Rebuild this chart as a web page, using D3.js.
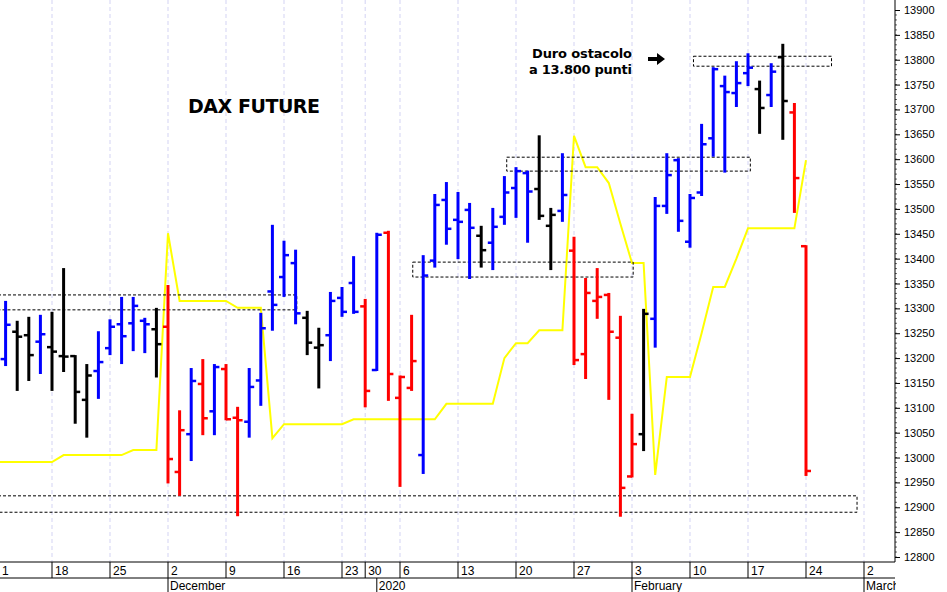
<!DOCTYPE html>
<html><head><meta charset="utf-8">
<script src="https://cdn.jsdelivr.net/npm/d3@7"></script>
<style>body{margin:0;background:#fff}svg{display:block;font-family:"Liberation Sans",Arial,sans-serif}</style>
</head><body><svg id="c" width="947" height="592"></svg>
<script>
const opens  =[13198,13253,13246,13233,13222,13204,13204,13116,13174,13220,13268,13270,13275,13258,13263,12971,13047,13148,13093,13178,13080,13072,13155,13334,13363,13391,13281,13221,13246,13321,13351,13304,13176,13452,13120,13140,13005,13396,13518,13478,13498,13446,13432,13484,13542,13572,13540,13466,13496,13416,13208,13315,13327,13241,12962,13047,13279,13506,13598,13434,13533,13642,13747,13733,13773,13741,13729,13805,13694,13425];
const highs  =[13313,13273,13281,13285,13291,13379,13204,13186,13252,13276,13321,13321,13279,13299,13345,13093,13178,13196,13186,13186,13100,13178,13289,13466,13434,13416,13293,13259,13331,13341,13403,13317,13450,13454,13163,13285,13405,13528,13552,13532,13510,13464,13500,13564,13582,13575,13646,13500,13610,13442,13359,13379,13329,13283,13086,13297,13522,13610,13600,13528,13669,13783,13766,13795,13811,13756,13791,13830,13711,13425];
const lows   =[13186,13136,13156,13170,13136,13174,13070,13042,13120,13208,13190,13216,13212,13163,12950,12925,12995,13047,13047,13077,12884,13042,13106,13257,13325,13270,13208,13141,13196,13285,13291,13103,13176,13116,12943,13136,12969,13384,13430,13401,13361,13384,13379,13470,13484,13434,13480,13379,13476,13188,13160,13281,13118,12883,12962,13015,13223,13492,13456,13424,13528,13607,13575,13707,13749,13653,13707,13641,13494,12965];
const closes =[13267,13243,13206,13248,13213,13203,13132,13165,13192,13263,13244,13305,13268,13228,12997,13055,13154,13079,13182,13077,13075,13142,13260,13307,13407,13290,13231,13226,13315,13293,13293,13134,13448,13168,13162,13194,13366,13508,13460,13474,13462,13417,13464,13533,13576,13535,13486,13488,13528,13196,13331,13323,13253,12939,13027,13289,13506,13568,13476,13522,13630,13781,13735,13753,13784,13703,13776,13717,13562,12973];
const barColors="BKKBKKKKBBBBBKRRBRBRRBBBBBKKBBBRBRRRBBBBBKBBBBKKBRRRRRRKBBBBBBBBBKBKRR".split("");
const signal=[12991,12991,12991,12991,12991,13005,13005,13005,13005,13005,13005,13015,13015,13015,13451,13315,13315,13315,13315,13315,13301,13301,13301,13039,13067,13067,13067,13067,13067,13067,13077,13077,13077,13077,13077,13077,13077,13077,13108,13108,13108,13108,13108,13200,13230,13230,13256,13256,13256,13647,13584,13584,13552,13470,13391,13391,12965,13162,13162,13162,13250,13343,13343,13400,13461,13461,13461,13461,13461,13598];
const signalStart=12991;
const weekTicks=[[-1,"1"],[4,"18"],[9,"25"],[14,"2"],[19,"9"],[24,"16"],[29,"23"],[31,"30"],[34,"6"],[39,"13"],[44,"20"],[49,"27"],[54,"3"],[59,"10"],[64,"17"],[69,"24"],[74,"2"]];
const monthTicks=[[14,"December"],[32,"2020"],[54,"February"],[74,"March"]];
const yTicks=d3.range(12800,13901,50);
const boxes=[[-1,25.1,13327,13297],[-1,73.4,12923,12890],[35.1,54.1,13393,13363],[43.2,64.2,13604,13576],[59.3,71.2,13807,13787]];
const colorMap={B:"#0000ff",R:"#ff0000",K:"#000000"};

const svg=d3.select("#c");
const x=d3.scaleLinear().domain([0,1]).range([5.6,17.2]);
const y=d3.scaleLinear().domain([12800,13900]).range([557,10]);
const plotR=895, plotB=562;

svg.append("g").selectAll("line").data(weekTicks).join("line")
 .attr("x1",d=>x(d[0])).attr("x2",d=>x(d[0])).attr("y1",0).attr("y2",plotB)
 .attr("stroke","#c8c8f0").attr("stroke-dasharray","4,3").attr("stroke-width",0.8);

svg.append("path").datum([[-1.5,signalStart]].concat(signal.map((v,i)=>[i,v])))
 .attr("d",d3.line().x(d=>x(d[0])).y(d=>y(d[1])))
 .attr("fill","none").attr("stroke","#ffff00").attr("stroke-width",2);

svg.append("g").selectAll("rect").data(boxes).join("rect")
 .attr("x",d=>Math.max(-2,x(d[0]))).attr("width",d=>x(d[1])-Math.max(-2,x(d[0])))
 .attr("y",d=>y(d[2])).attr("height",d=>y(d[3])-y(d[2]))
 .attr("fill","none").attr("stroke","#000").attr("stroke-dasharray","3,2").attr("stroke-width",1);

const bars=svg.append("g").selectAll("g").data(opens.map((o,i)=>({i,o,h:highs[i],l:lows[i],c:closes[i],col:colorMap[barColors[i]]}))).join("g")
 .attr("stroke",d=>d.col).attr("stroke-width",3);
bars.append("line").attr("x1",d=>x(d.i)).attr("x2",d=>x(d.i)).attr("y1",d=>y(d.h)-1).attr("y2",d=>y(d.l)+1);
bars.append("line").attr("x1",d=>x(d.i)-5).attr("x2",d=>x(d.i)).attr("y1",d=>y(d.o)).attr("y2",d=>y(d.o)).attr("stroke-width",2.5);
bars.append("line").attr("x1",d=>x(d.i)).attr("x2",d=>x(d.i)+5).attr("y1",d=>y(d.c)).attr("y2",d=>y(d.c)).attr("stroke-width",2.5);

svg.append("line").attr("x1",plotR).attr("x2",plotR).attr("y1",0).attr("y2",plotB).attr("stroke","#000");
const ya=svg.append("g").attr("transform",`translate(${plotR},0)`)
 .call(d3.axisRight(y).tickValues(yTicks).tickFormat(d3.format("d")).tickSize(5).tickPadding(4));
ya.select(".domain").remove();
ya.selectAll("text").attr("font-size",11).attr("font-family","Liberation Sans, Arial").attr("fill","#000");
svg.append("g").selectAll("line").data(d3.range(12800,13900,10)).join("line")
 .attr("x1",plotR).attr("x2",plotR+2).attr("y1",d=>y(d)).attr("y2",d=>y(d)).attr("stroke","#000").attr("stroke-width",0.6);

svg.append("line").attr("x1",0).attr("x2",plotR).attr("y1",plotB).attr("y2",plotB).attr("stroke","#000");
svg.append("line").attr("x1",0).attr("x2",plotR).attr("y1",578).attr("y2",578).attr("stroke","#000");
const wt=svg.append("g").selectAll("g").data(weekTicks).join("g");
wt.append("line").attr("x1",d=>x(d[0])).attr("x2",d=>x(d[0])).attr("y1",plotB).attr("y2",578).attr("stroke","#000");
wt.append("text").attr("x",d=>Math.max(2,x(d[0])+3)).attr("y",575).attr("font-size",12).text(d=>d[1]);
const mt=svg.append("g").selectAll("g").data(monthTicks).join("g");
mt.append("line").attr("x1",d=>x(d[0])).attr("x2",d=>x(d[0])).attr("y1",578).attr("y2",592).attr("stroke","#000");
mt.append("text").attr("x",d=>x(d[0])+2).attr("y",590).attr("font-size",12).text(d=>d[1]);
svg.append("rect").attr("x",plotR+1).attr("y",563).attr("width",60).attr("height",30).attr("fill","#fff");

svg.append("text").attr("x",188).attr("y",113).attr("font-size",19).attr("font-weight","bold").attr("font-family","DejaVu Sans").attr("textLength",132).text("DAX FUTURE");
svg.append("text").attr("x",632).attr("y",58).attr("text-anchor","end").attr("font-size",13).attr("font-weight","bold").attr("font-family","DejaVu Sans").attr("textLength",100).text("Duro ostacolo");
svg.append("text").attr("x",632).attr("y",74).attr("text-anchor","end").attr("font-size",13).attr("font-weight","bold").attr("font-family","DejaVu Sans").attr("textLength",103).text("a 13.800 punti");
svg.append("path").attr("d","M648,57 h9 v-4 l8,6 l-8,6 v-4 h-9 z").attr("fill","#000");
</script></body></html>
